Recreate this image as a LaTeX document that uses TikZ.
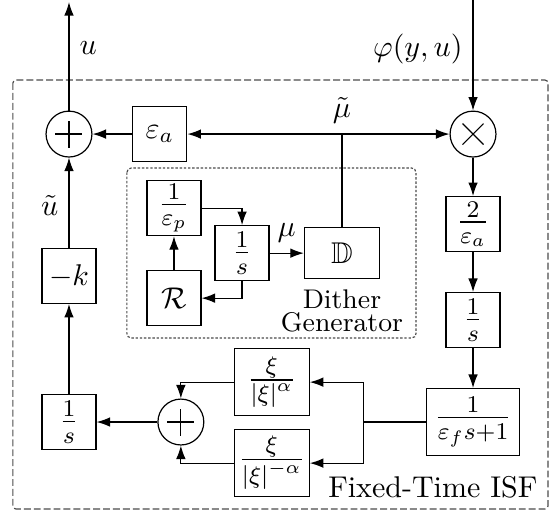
\documentclass[tikz,border=0pt]{standalone}
\usepackage{amsfonts}
\usepackage{amsmath}
\usepackage{tikz}
\usetikzlibrary{arrows.meta,positioning}

\begin{document}
\begin{tikzpicture}[
    on grid,
    block/.style={draw, align=center, minimum height=18.3pt, minimum width=18pt, inner sep=1pt},
    fblock/.style={block, font=\large},
    wblock/.style={fblock, minimum width=25pt, minimum height=22.3pt},
    sumnode/.style={draw, circle, minimum size=15.3pt, inner sep=0pt,
      path picture={\draw ([xshift=-4.5pt]path picture bounding box.center) -- ([xshift=4.5pt]path picture bounding box.center)
        ([yshift=-4.5pt]path picture bounding box.center) -- ([yshift=4.5pt]path picture bounding box.center);}},
    mulnode/.style={draw, circle, minimum size=15.3pt, inner sep=0pt,
      path picture={\draw ([shift={(-3.5pt,-3.5pt)}]path picture bounding box.center) -- ([shift={(3.5pt,3.5pt)}]path picture bounding box.center)
        ([shift={(-3.5pt,3.5pt)}]path picture bounding box.center) -- ([shift={(3.5pt,-3.5pt)}]path picture bounding box.center);}},
    arrow/.style={-{Latex[length=4.5pt,width=3.2pt]}},
    isfbox/.style={draw=black!70, dash pattern=on 2.3pt off 1pt, rounded corners=1pt},
    dgbox/.style={draw=black!70, dash pattern=on 0.8pt off 0.6pt, rounded corners=1.5pt}
  ]
    \useasboundingbox (-23pt,44.7pt) rectangle (163.7pt,-126pt);

    % outer loop
    \node[sumnode] (sa) at (0,0) {};
    \node[block, right=30.3pt of sa] (ea) {$\varepsilon_a$};
    \node[mulnode, right=134.7pt of sa] (mul) {};
    \node[fblock, below=30pt of mul] (ga) {$\frac{2}{\varepsilon_a}$};
    \node[fblock, below=32pt of ga] (ir) {$\frac{1}{s}$};
    \node[fblock, minimum width=31pt, minimum height=22.3pt, below=34pt of ir] (flt) {$\frac{1}{\varepsilon_f s+1}$};
    \node[block, below=47.3pt of sa] (k) {$-k$};
    \node[fblock, below=48.7pt of k] (il) {$\frac{1}{s}$};
    \node[sumnode, right=37.3pt of il] (sb) {};
    \node[wblock, above right=13.3pt and 30.3pt of sb] (xp) {$\frac{\xi}{\left|\xi\right|^{\alpha}}$};
    \node[wblock, below right=13.7pt and 30.3pt of sb] (xm) {$\frac{\xi}{\left|\xi\right|^{-\alpha}}$};

    % dither generator
    \node[fblock, below right=24.7pt and 35pt of sa] (ep) {$\frac{1}{\varepsilon_p}$};
    \node[block, below=30pt of ep] (rr) {$\mathcal{R}$};
    \node[fblock, below right=15pt and 22.7pt of ep] (id) {$\frac{1}{s}$};
    \node[block, minimum width=25pt, minimum height=17pt, right=33.3pt of id] (dd) {$\mathbb{D}$};
    \node[align=center, anchor=north, font=\fontsize{9}{7.5}\selectfont] (dglbl) at (dd.south) {Dither\\Generator};

    \coordinate (mt) at (dd |- sa);
    \coordinate[above=44pt of sa] (out);
    \coordinate[above=44.7pt of mul] (in);
    \coordinate[left=20.7pt of flt.west] (sp);

    \coordinate (ftl) at (-18.7pt,18pt);
    \coordinate (fbr) at (159.7pt,-125pt);
    \draw[isfbox] (ftl) rectangle (fbr);
    \node[anchor=south east] (isflbl) at (fbr) {Fixed-Time ISF};
    \coordinate (dtl) at (19.3pt,-11.3pt);
    \coordinate (dbr) at (115.7pt,-68pt);
    \draw[dgbox] (dtl) rectangle (dbr);

    \draw[arrow] (sa) -- (out) node[pos=0.58, right] (ulbl) {$u$};
    \draw[arrow] (in) -- (mul) node[pos=0.44, left] (philbl) {$\varphi(y,u)$};
    \draw[arrow] (mt) -- (ea);
    \draw[arrow] (mt) -- (mul);
    \draw (dd) -- (mt) node[above] (mulbl) {$\tilde{\mu}$};
    \draw[arrow] (ea) -- (sa);
    \draw[arrow] (mul) -- (ga);
    \draw[arrow] (ga) -- (ir);
    \draw[arrow] (ir) -- (flt);
    \draw (flt) -- (sp);
    \draw[arrow] (sp) |- (xp);
    \draw[arrow] (sp) |- (xm);
    \draw[arrow] (xp) -| (sb);
    \draw[arrow] (xm) -| (sb);
    \draw[arrow] (sb) -- (il);
    \draw[arrow] (il) -- (k);
    \draw[arrow] (k) -- (sa) node[pos=0.47, left] (utlbl) {$\tilde{u}$};

    \draw[arrow] (ep) -| (id);
    \draw[arrow] (id) |- (rr);
    \draw[arrow] (rr) -- (ep);
    \draw[arrow] (id) -- (dd) node[midway, above] (mlbl) {$\mu$};
  \end{tikzpicture}
\end{document}
